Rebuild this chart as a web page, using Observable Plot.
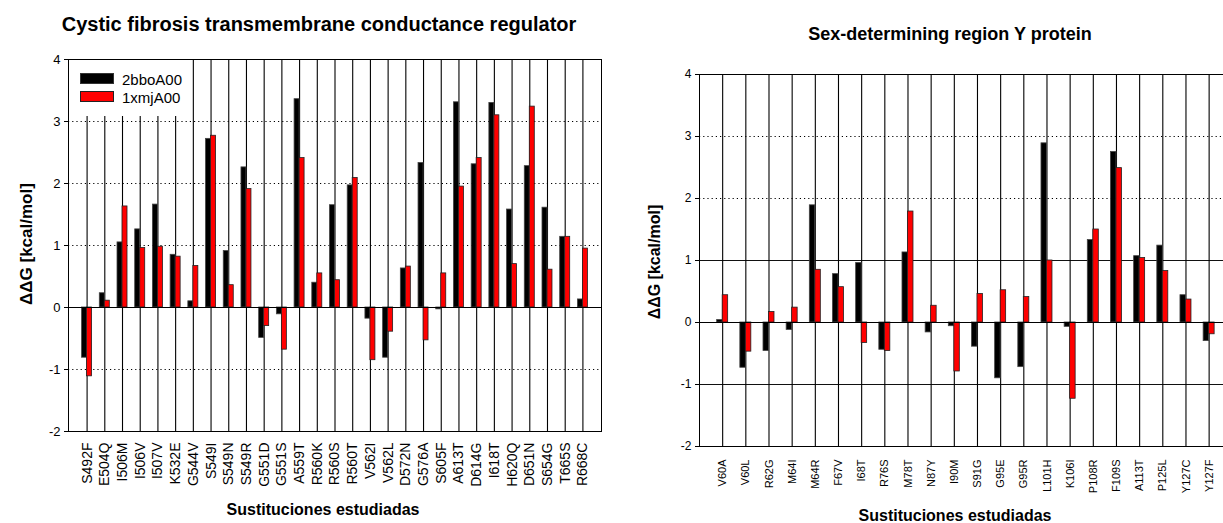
<!DOCTYPE html>
<html><head><meta charset="utf-8">
<script src="https://cdn.jsdelivr.net/npm/d3@7"></script>
<script src="https://cdn.jsdelivr.net/npm/@observablehq/plot@0.6"></script>
<style>
html,body{margin:0;padding:0;background:#fff;overflow:hidden}
#wrap{position:relative;width:1223px;height:523px;overflow:hidden;font-family:"Liberation Sans",Arial,sans-serif;color:#000}
#wrap svg{position:absolute;top:0;font-family:"Liberation Sans",Arial,sans-serif}
.lbl{position:absolute;font-weight:bold;white-space:nowrap;line-height:1}
.sw{position:absolute;box-sizing:border-box}
</style></head>
<body><div id="wrap"></div>
<script>
// ---------- data ----------
const seriesNames = ["2bboA00", "1xmjA00"];
const yTicks = [-2, -1, 0, 1, 2, 3, 4];

const cfTitle = "Cystic fibrosis transmembrane conductance regulator";
const cfCategories = ["S492F","E504Q","I506M","I506V","I507V","K532E","G544V","S549I","S549N","S549R","G551D","G551S","A559T","R560K","R560S","R560T","V562I","V562L","D572N","G576A","S605F","A613T","D614G","I618T","H620Q","D651N","S654G","T665S","R668C"];
const cf2bbo = [-0.81,0.23,1.05,1.26,1.66,0.85,0.10,2.72,0.91,2.26,-0.49,-0.11,3.36,0.40,1.65,1.97,-0.18,-0.81,0.63,2.33,-0.03,3.31,2.31,3.30,1.58,2.28,1.61,1.14,0.13];
const cf1xmj = [-1.11,0.11,1.63,0.96,0.98,0.82,0.67,2.77,0.36,1.91,-0.30,-0.68,2.41,0.55,0.44,2.09,-0.85,-0.39,0.66,-0.53,0.55,1.95,2.41,3.10,0.70,3.24,0.61,1.14,0.95];

const sryTitle = "Sex-determining region Y protein";
const sryCategories = ["V60A","V60L","R62G","M64I","M64R","F67V","I68T","R76S","M78T","N87Y","I90M","S91G","G95E","G95R","L101H","K106I","P108R","F109S","A113T","P125L","Y127C","Y127F"];
const sry2bbo = [0.04,-0.73,-0.46,-0.12,1.89,0.78,0.96,-0.44,1.13,-0.16,-0.06,-0.39,-0.90,-0.72,2.89,-0.07,1.33,2.75,1.07,1.24,0.44,-0.30];
const sry1xmj = [0.44,-0.47,0.17,0.24,0.85,0.57,-0.33,-0.46,1.79,0.27,-0.79,0.46,0.52,0.41,1.00,-1.23,1.50,2.49,1.04,0.83,0.37,-0.19];

const yLabel = "ΔΔG [kcal/mol]";
const xLabel = "Sustituciones estudiadas";

// ---------- helpers ----------
const wrap = document.getElementById("wrap");
function addLabel(text, x, y, size, rot) {
  const d = document.createElement("div");
  d.className = "lbl";
  d.textContent = text;
  d.style.left = x + "px";
  d.style.top = y + "px";
  d.style.fontSize = size + "px";
  d.style.transform = "translate(-50%,-50%)" + (rot ? " rotate(" + rot + "deg)" : "");
  wrap.appendChild(d);
}

function makeChart(o) {
  const n = o.categories.length;
  const innerW = o.width - o.marginLeft - o.marginRight;
  const bw = innerW / (n + 2 * o.paddingOuter);
  const rows = o.categories.map((c, i) => ({cat: c, a: o.s1[i], b: o.s2[i], i}));
  const chart = Plot.plot({
    width: o.width, height: o.height,
    marginLeft: o.marginLeft, marginRight: o.marginRight,
    marginTop: o.marginTop, marginBottom: o.marginBottom,
    style: {fontFamily: '"Liberation Sans", Arial, sans-serif', background: "transparent", overflow: "visible"},
    x: {type: "band", domain: o.categories, paddingInner: 0, paddingOuter: o.paddingOuter, round: false},
    y: {domain: [-2, 4]},
    marks: [
      Plot.ruleY(o.dotted, {stroke: "#000", strokeDasharray: "1.2,3", strokeWidth: 1}),
      Plot.ruleY(o.solid, {stroke: "#111", strokeWidth: 1}),
      Plot.ruleX(rows, {x: "cat", y1: -2, y2: d => (d.i < o.shortLines ? o.shortTop : 4), stroke: "#000", strokeWidth: 1.1}),
      Plot.barY(rows, {x: "cat", y1: 0, y2: "a", fill: "#000", stroke: "#444", strokeWidth: 0.8,
        insetLeft: bw / 2 - o.barW, insetRight: bw / 2}),
      Plot.barY(rows, {x: "cat", y1: 0, y2: "b", fill: "#ff0000", stroke: "#222", strokeWidth: 0.8,
        insetLeft: bw / 2, insetRight: bw / 2 - o.barW}),
      Plot.ruleY([0], {stroke: "#000", strokeWidth: 1}),
      Plot.frame({stroke: "#000", strokeWidth: 1}),
      Plot.axisY({ticks: yTicks, tickFormat: d => String(d), tickSize: 4, tickPadding: 4, fontSize: o.yFont, label: null}),
      Plot.axisX({tickRotate: -90, tickSize: 0, tickPadding: o.xPad, fontSize: o.xFont, label: null})
    ]
  });
  chart.style.left = o.left + "px";
  wrap.appendChild(chart);
}

// ---------- left chart ----------
makeChart({
  categories: cfCategories, s1: cf2bbo, s2: cf1xmj,
  left: 0, width: 612, height: 523,
  marginLeft: 68, marginRight: 11, marginTop: 59, marginBottom: 92,
  paddingOuter: 0.55, barW: 5,
  dotted: [-1, 1, 2, 3], solid: [],
  shortLines: 6, shortTop: 3.08,
  yFont: 13, xFont: 14, xPad: 11
});
addLabel(cfTitle, 319, 24, 20);
addLabel(yLabel, 26, 244, 17, -90);
addLabel(xLabel, 323, 510, 16);

// legend
const legendItems = [{name: seriesNames[0], color: "#000", border: "#333"}, {name: seriesNames[1], color: "#ff0000", border: "#222"}];
legendItems.forEach((it, k) => {
  const s = document.createElement("div");
  s.className = "sw";
  s.style.left = "80px"; s.style.top = (73 + k * 18) + "px";
  s.style.width = "34px"; s.style.height = "11px";
  s.style.background = it.color; s.style.border = "1px solid " + it.border;
  wrap.appendChild(s);
  const t = document.createElement("div");
  t.style.position = "absolute"; t.style.left = "122px"; t.style.top = (79 + k * 18) + "px";
  t.style.transform = "translateY(-50%)"; t.style.fontSize = "15px"; t.style.lineHeight = "1";
  t.textContent = it.name;
  wrap.appendChild(t);
});

// ---------- right chart ----------
makeChart({
  categories: sryCategories, s1: sry2bbo, s2: sry1xmj,
  left: 612, width: 640, height: 523,
  marginLeft: 87, marginRight: 20.2, marginTop: 74, marginBottom: 77,
  paddingOuter: 0.5, barW: 5.5,
  dotted: [2, 3, 1, -1], solid: [1, -1],
  shortLines: 0, shortTop: 4,
  yFont: 12, xFont: 11, xPad: 13
});
addLabel(sryTitle, 950, 34, 18);
addLabel(yLabel, 655, 262, 16, -90);
addLabel(xLabel, 955, 516, 16);
</script>
</body></html>
